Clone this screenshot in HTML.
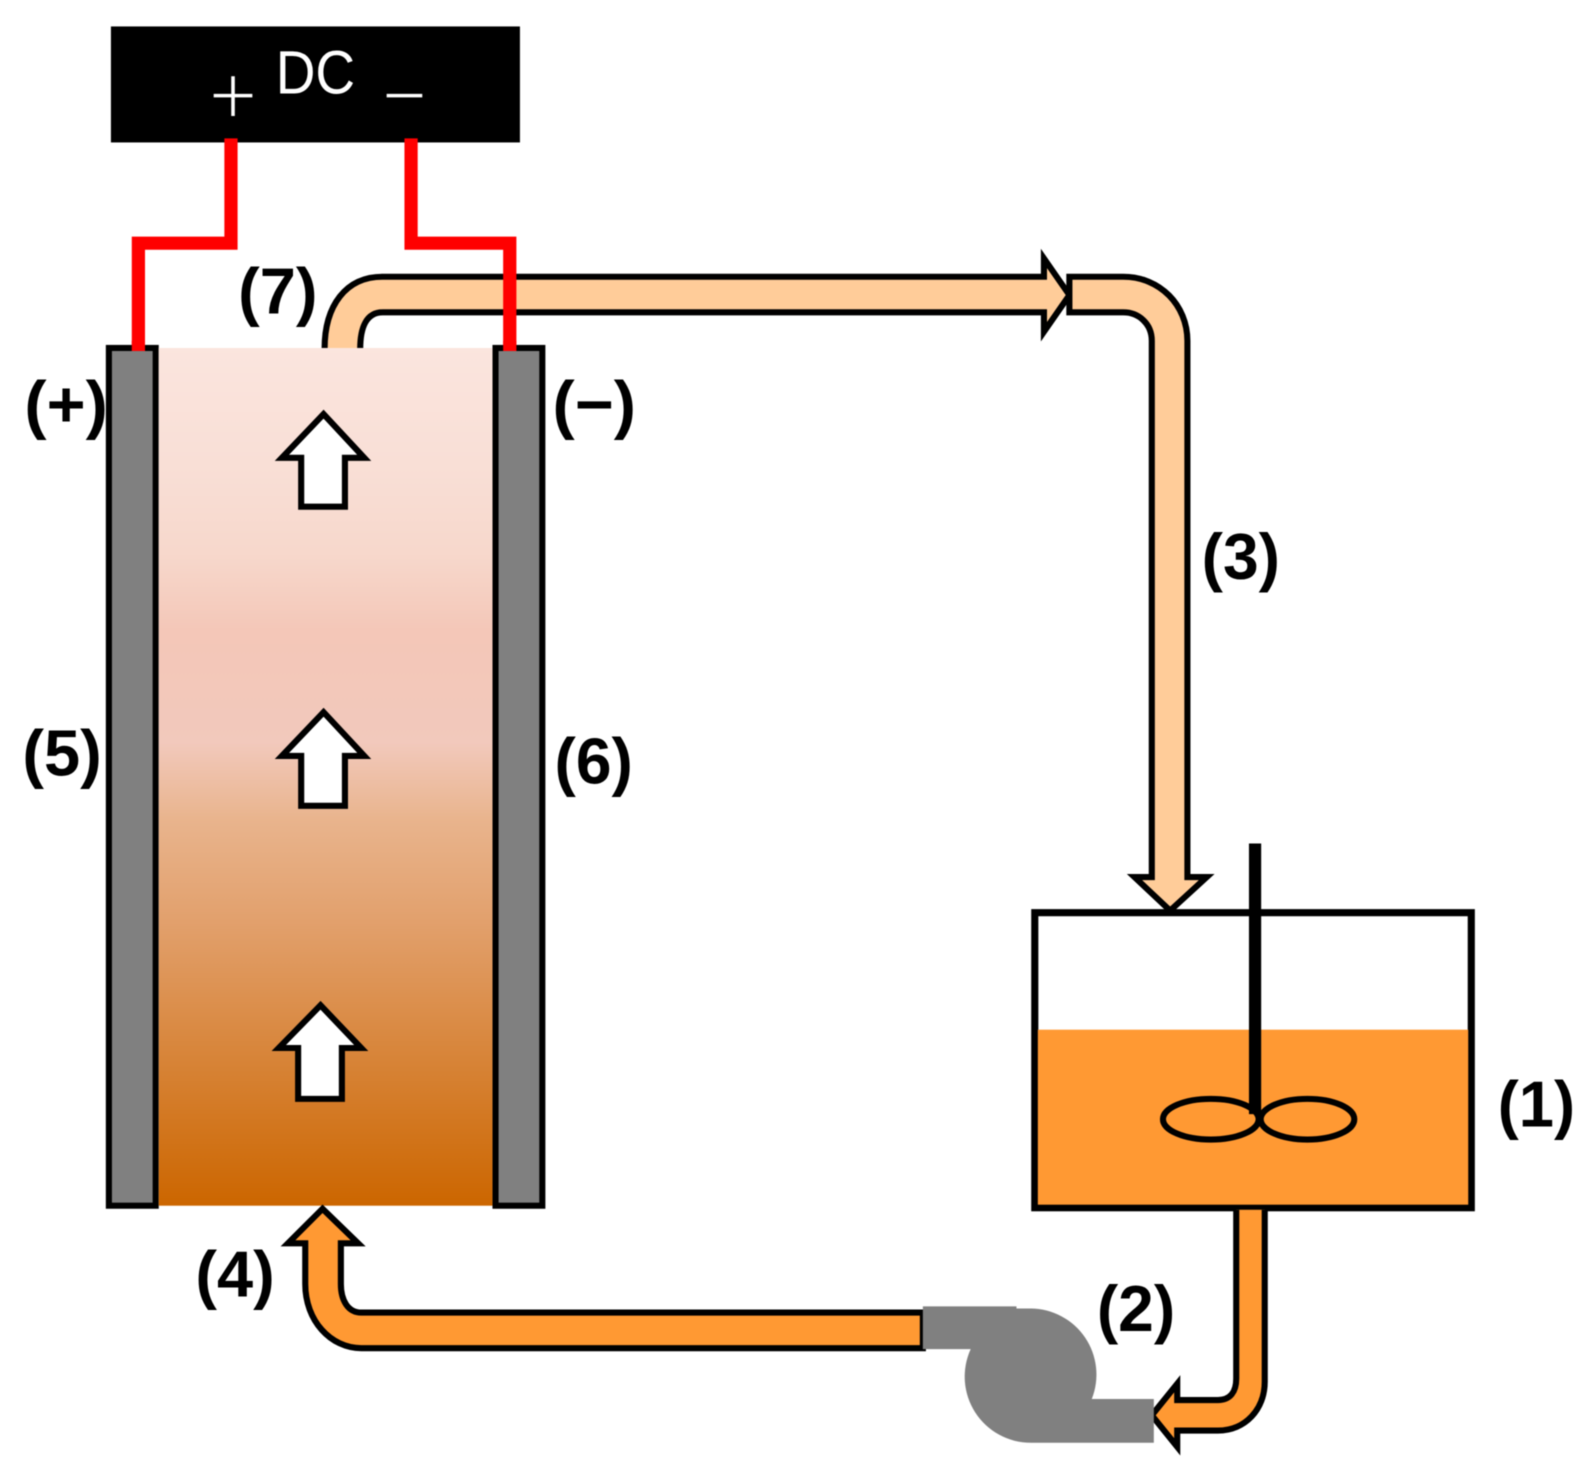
<!DOCTYPE html>
<html><head><meta charset="utf-8"><style>html,body{margin:0;padding:0;background:#fff}svg{display:block;filter:blur(.6px)}text{font-family:"Liberation Sans",sans-serif}.l{font-size:64px;font-weight:bold;fill:#000}</style></head><body>
<svg width="1594" height="1479" viewBox="0 0 1566.6 1453.6" xmlns="http://www.w3.org/2000/svg">
<defs><linearGradient id="g" x1="0" y1="0" x2="0" y2="1">
<stop offset="0" stop-color="#fbe5de"/><stop offset=".14" stop-color="#f9dfd6"/><stop offset=".24" stop-color="#f7d8cc"/><stop offset=".33" stop-color="#f4c7b8"/><stop offset=".46" stop-color="#f2c9bc"/><stop offset=".55" stop-color="#e9b48d"/><stop offset=".67" stop-color="#e2a06c"/><stop offset="1" stop-color="#cc6600"/></linearGradient></defs>
<rect x="0" y="0" width="1566.6" height="1453.6" fill="#fff"/>
<rect x="109" y="26" width="402" height="114" fill="#000"/>
<text x="271" y="92" font-size="60" fill="#fff" textLength="78" lengthAdjust="spacingAndGlyphs">DC</text>
<path d="M229 75V114M210 94H248M380 94H415" stroke="#fff" stroke-width="3.5" fill="none"/>
<path d="M319 343C319 300 340 272 376 272H1026V254L1051 290L1026 326V307H376C360 307 354 322 354 343" fill="#fc9" stroke="#000" stroke-width="6"/>
<path d="M1051 272H1104C1140 272 1167 300 1167 335V862H1186L1150 895L1115 862H1132V335C1132 318 1119 307 1104 307H1051Z" fill="#fc9" stroke="#000" stroke-width="6"/>
<path d="M227 136V239H136V342M404 136V239H501V342" fill="none" stroke="#f00" stroke-width="13"/>
<rect x="107" y="342" width="46" height="843" fill="#808080" stroke="#000" stroke-width="6"/>
<rect x="487" y="342" width="46" height="843" fill="#808080" stroke="#000" stroke-width="6"/>
<rect x="156" y="342" width="328" height="843" fill="url(#g)"/>
<path d="M136 335V345M501 335V345" stroke="#f00" stroke-width="13"/>
<path d="M318 407L358 450H339V498H296V450H277Z" fill="#fff" stroke="#000" stroke-width="6"/>
<path d="M318 700L358 743H339V792H296V743H277Z" fill="#fff" stroke="#000" stroke-width="6"/>
<path d="M315 988L355 1030H336V1080H293V1030H274Z" fill="#fff" stroke="#000" stroke-width="6"/>
<rect x="1017" y="897" width="429" height="290" fill="#fff" stroke="#000" stroke-width="7"/>
<rect x="1020" y="1012" width="423" height="172" fill="#f93"/>
<rect x="1227.5" y="829" width="12" height="266" fill="#000"/>
<ellipse cx="1190" cy="1100" rx="47" ry="20" fill="none" stroke="#000" stroke-width="6"/>
<ellipse cx="1285" cy="1100" rx="46" ry="20" fill="none" stroke="#000" stroke-width="6"/>
<path d="M1215 1189V1355C1215 1368 1209 1376 1197 1376H1157V1360L1132 1391L1157 1422V1406H1197C1224 1406 1243 1385 1243 1358V1189" fill="#f93" stroke="#000" stroke-width="6"/>
<path d="M907 1290H355C342 1290 335 1278 335 1262V1222H352L317 1188L283 1222H300V1262C300 1298 325 1325 355 1325H907Z" fill="#f93" stroke="#000" stroke-width="6"/>
<path d="M907 1284H999V1286H1013A65 65 0 0 1 1073 1375H1134V1418H1013A65 65 0 0 1 954 1326H907Z" fill="#808080"/>
<text class="l" x="234" y="308" textLength="78" lengthAdjust="spacingAndGlyphs">(7)</text>
<text class="l" x="24" y="419" textLength="82" lengthAdjust="spacingAndGlyphs">(+)</text>
<text class="l" x="543" y="419" textLength="82" lengthAdjust="spacingAndGlyphs">(−)</text>
<text class="l" x="1181" y="569" textLength="77" lengthAdjust="spacingAndGlyphs">(3)</text>
<text class="l" x="22" y="762" textLength="78" lengthAdjust="spacingAndGlyphs">(5)</text>
<text class="l" x="545" y="770" textLength="77" lengthAdjust="spacingAndGlyphs">(6)</text>
<text class="l" x="1472" y="1107" textLength="76" lengthAdjust="spacingAndGlyphs">(1)</text>
<text class="l" x="1078" y="1308" textLength="77" lengthAdjust="spacingAndGlyphs">(2)</text>
<text class="l" x="192" y="1274" textLength="78" lengthAdjust="spacingAndGlyphs">(4)</text>
</svg></body></html>
